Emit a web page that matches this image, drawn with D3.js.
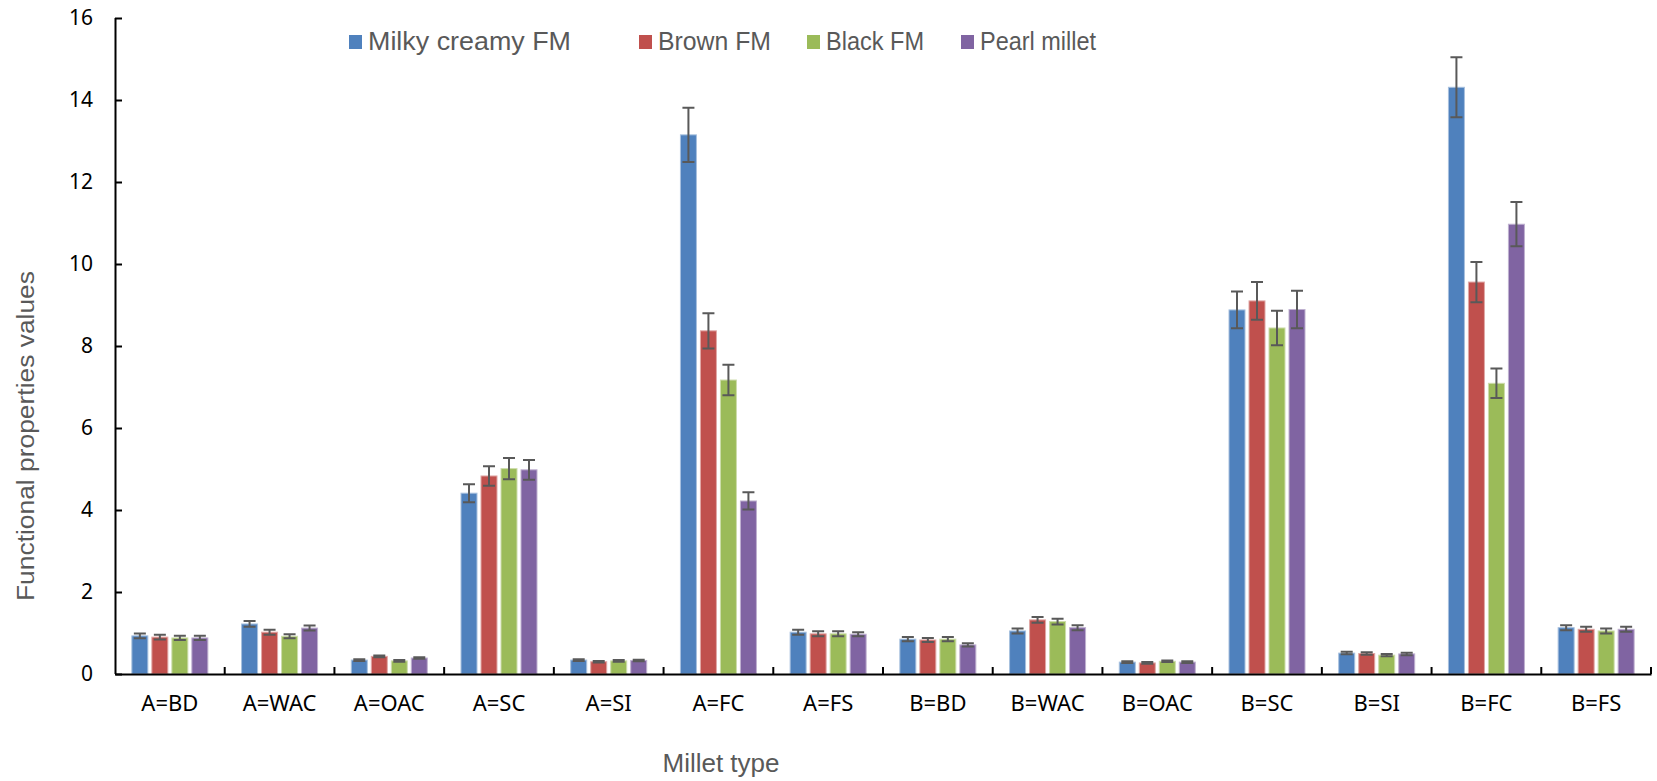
<!DOCTYPE html>
<html>
<head>
<meta charset="utf-8">
<script src="https://cdn.jsdelivr.net/npm/d3@7"></script>
<style>
	body { margin: 0; background: #fff; }
	svg { display: block; }
</style>
</head>
<body>
<div id="chart"></div>
<script>
// categories and series
var categories = [ 'A=BD', 'A=WAC', 'A=OAC', 'A=SC', 'A=SI', 'A=FC', 'A=FS', 'B=BD', 'B=WAC', 'B=OAC', 'B=SC', 'B=SI', 'B=FC', 'B=FS' ];
var seriesNames = [ 'Milky creamy FM', 'Brown FM', 'Black FM', 'Pearl millet' ];

var milky = [ 0.93, 1.22, 0.34, 4.41, 0.34, 13.15, 1.02, 0.85, 1.05, 0.29, 8.88, 0.51, 14.31, 1.13 ];
var brown = [ 0.9, 1.02, 0.43, 4.83, 0.3, 8.37, 0.98, 0.83, 1.32, 0.27, 9.1, 0.5, 9.56, 1.09 ];
var black = [ 0.88, 0.92, 0.32, 5.01, 0.32, 7.17, 0.98, 0.85, 1.28, 0.31, 8.44, 0.46, 7.09, 1.05 ];
var pearl = [ 0.88, 1.12, 0.39, 4.98, 0.33, 4.22, 0.97, 0.71, 1.13, 0.29, 8.89, 0.49, 10.97, 1.09 ];

// error bars (+/-)
var milkyErr = [ 0.06, 0.07, 0.02, 0.22, 0.02, 0.66, 0.06, 0.05, 0.06, 0.02, 0.45, 0.03, 0.73, 0.06 ];
var brownErr = [ 0.06, 0.06, 0.02, 0.24, 0.02, 0.43, 0.06, 0.05, 0.07, 0.02, 0.46, 0.03, 0.49, 0.06 ];
var blackErr = [ 0.05, 0.05, 0.02, 0.26, 0.02, 0.37, 0.06, 0.05, 0.07, 0.02, 0.42, 0.03, 0.36, 0.06 ];
var pearlErr = [ 0.05, 0.06, 0.02, 0.24, 0.02, 0.21, 0.05, 0.04, 0.06, 0.02, 0.46, 0.03, 0.54, 0.06 ];

var yTicks = [ 0, 2, 4, 6, 8, 10, 12, 14, 16 ];

var colors = [ '#4f81bd', '#c0504d', '#9bbb59', '#8064a2' ];
var edges = [ '#a7c0de', '#e0a8a6', '#cddcac', '#bfb1d0' ];

var values = [ milky, brown, black, pearl ];
var errors = [ milkyErr, brownErr, blackErr, pearlErr ];

var rows = [];
categories.forEach((c, i) => {
	seriesNames.forEach((s, j) => {
		rows.push({ cat: c, series: s, idx: j, value: values[j][i], err: errors[j][i] });
	});
});

var width = 1657;
var height = 781;
var margin = { top: 18, right: 6, bottom: 107, left: 115 };

var svg = d3.select('#chart').append('svg').attr('width', width).attr('height', height);

var x0 = d3
	.scaleBand()
	.domain(categories)
	.range([ margin.left, width - margin.right ])
	.padding(0);

var x1 = d3
	.scaleBand()
	.domain(seriesNames)
	.range([ -40, 40 ])
	.paddingInner(0.2)
	.paddingOuter(0.1);

var y = d3
	.scaleLinear()
	.domain([ 0, 16 ])
	.range([ height - margin.bottom, margin.top ]);

// bars
svg
	.append('g')
	.selectAll('rect')
	.data(rows)
	.enter()
	.append('rect')
	.attr('x', (d) => x0(d.cat) + x0.bandwidth() / 2 + x1(d.series))
	.attr('y', (d) => y(d.value))
	.attr('width', x1.bandwidth())
	.attr('height', (d) => y(0) - y(d.value))
	.attr('fill', (d) => colors[d.idx])
	.attr('stroke', (d) => edges[d.idx])
	.attr('stroke-width', 1);

// error bars
var eb = svg.append('g').attr('stroke', '#595959').attr('stroke-width', 2).attr('fill', 'none');
var cx = (d) => x0(d.cat) + x0.bandwidth() / 2 + x1(d.series) + x1.bandwidth() / 2;

eb
	.selectAll('path')
	.data(rows)
	.enter()
	.append('path')
	.attr('d', (d) => {
		var c = cx(d), t = y(d.value + d.err), b = y(d.value - d.err);
		return `M${c},${t}V${b}M${c - 6},${t}H${c + 6}M${c - 6},${b}H${c + 6}`;
	});

// y axis
var yAxis = svg
	.append('g')
	.attr('transform', `translate(${margin.left},0)`)
	.call(d3.axisRight(y).tickValues(yTicks).tickSize(7).tickFormat(d3.format('d')));
yAxis.select('.domain').attr('stroke', '#000').attr('stroke-width', 2).attr('d', `M0.5,${y(16)}V${y(0)}`);
yAxis.selectAll('.tick line').attr('stroke', '#000').attr('stroke-width', 2);
yAxis
	.selectAll('.tick text')
	.attr('x', -22)
	.attr('text-anchor', 'end')
	.attr('fill', '#000')
	.style('font-family', '"Noto Sans", sans-serif')
	.style('font-size', '21px');

// x axis
var xAxis = svg
	.append('g')
	.attr('transform', `translate(0,${y(0)})`)
	.call(d3.axisBottom(x0).tickSize(0).tickPadding(21));
xAxis.select('.domain').attr('stroke', '#000').attr('stroke-width', 2);
xAxis
	.selectAll('.tick text')
	.attr('fill', '#000')
	.style('font-family', '"Noto Sans", sans-serif')
	.style('font-size', '22px');

// boundary ticks between categories
var bounds = categories.slice(1).map((c) => x0(c)).concat([ x0.range()[1] ]);
xAxis
	.append('g')
	.selectAll('line')
	.data(bounds)
	.enter()
	.append('line')
	.attr('x1', (d) => d)
	.attr('x2', (d) => d)
	.attr('y1', 0)
	.attr('y2', -7)
	.attr('stroke', '#000')
	.attr('stroke-width', 2);

// axis titles
svg
	.append('text')
	.attr('transform', 'translate(34,436) rotate(-90)')
	.attr('text-anchor', 'middle')
	.attr('fill', '#595959')
	.attr('textLength', 330)
	.attr('lengthAdjust', 'spacingAndGlyphs')
	.style('font-family', '"Liberation Sans", Arial, sans-serif')
	.style('font-size', '23px')
	.text('Functional properties values');

svg
	.append('text')
	.attr('x', 721)
	.attr('y', 772)
	.attr('text-anchor', 'middle')
	.attr('fill', '#595959')
	.style('font-family', '"Liberation Sans", Arial, sans-serif')
	.style('font-size', '26px')
	.text('Millet type');

// legend
var legendX = [ 349, 639, 807, 961 ];
var legendW = [ 203, 113, 98, 116 ];
var legend = svg
	.append('g')
	.selectAll('g')
	.data(seriesNames)
	.enter()
	.append('g')
	.attr('transform', (d, i) => `translate(${legendX[i]},0)`);

legend
	.append('rect')
	.attr('x', 0)
	.attr('y', 35)
	.attr('width', 13)
	.attr('height', 14)
	.attr('fill', (d, i) => colors[i]);

legend
	.append('text')
	.attr('x', 19)
	.attr('y', 50)
	.attr('fill', '#595959')
	.attr('textLength', (d, i) => legendW[i])
	.attr('lengthAdjust', 'spacingAndGlyphs')
	.style('font-family', '"Liberation Sans", Arial, sans-serif')
	.style('font-size', '25px')
	.text((d) => d);
</script>
</body>
</html>
